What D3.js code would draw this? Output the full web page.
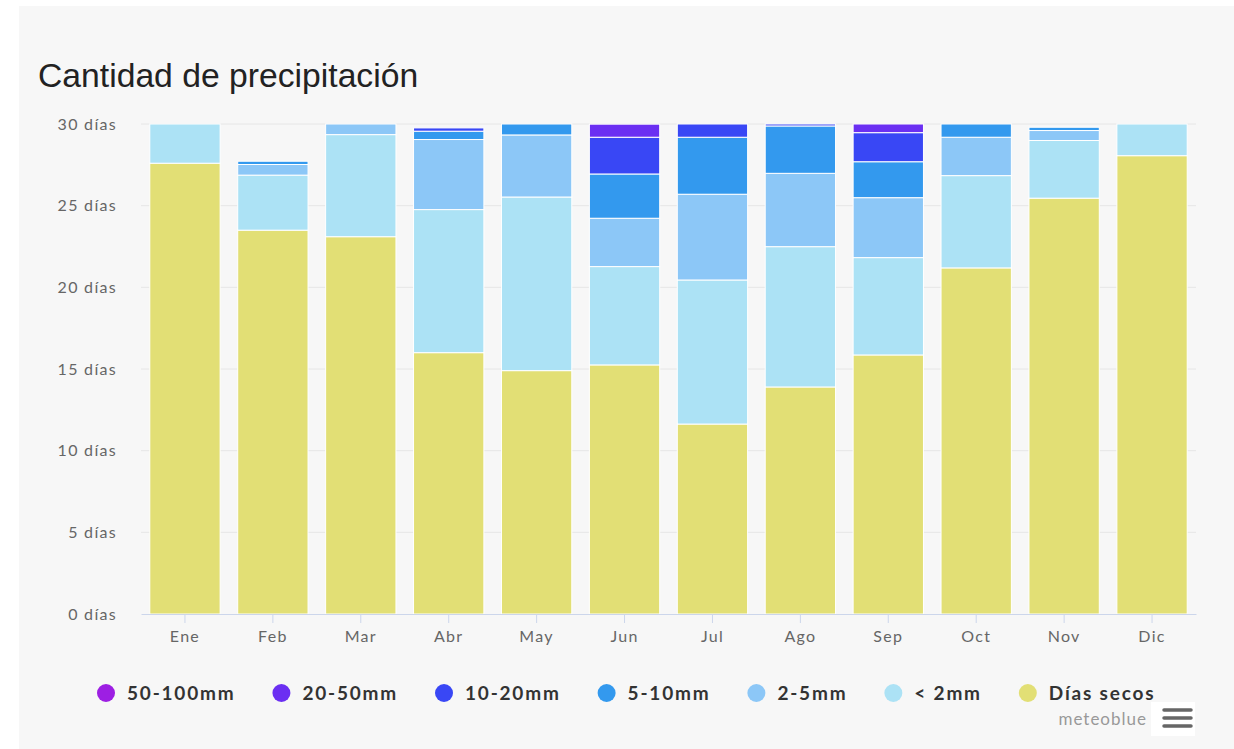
<!DOCTYPE html>
<html>
<head>
<meta charset="utf-8">
<script src="https://cdn.jsdelivr.net/npm/d3@7"></script>
<style>
  body { margin: 0; background: #fff; }
  svg { display: block; }
</style>
</head>
<body>
<div id="chart"></div>
<script>
// Chart size
const width = 1234;
const height = 749;
const marginTop = 124;
const marginRight = 38;
const marginBottom = 135;
const marginLeft = 141;

// Data (days per month)
const months = ["Ene", "Feb", "Mar", "Abr", "May", "Jun", "Jul", "Ago", "Sep", "Oct", "Nov", "Dic"];
const seriesNames = ["50-100mm", "20-50mm", "10-20mm", "5-10mm", "2-5mm", "< 2mm", "Días secos"];
const seriesColors = ["#9d1fe3", "#6b2ff2", "#3947f5", "#3399ee", "#8cc7f7", "#ace2f5", "#e2df75"];

const diasSecos = [27.6, 23.5, 23.1, 16.0, 14.9, 15.25, 11.63, 13.9, 15.86, 21.19, 25.46, 28.06];
const menos2mm  = [2.4, 3.37, 6.25, 8.76, 10.63, 6.02, 8.82, 8.59, 5.96, 5.65, 3.53, 1.94];
const mm2a5     = [0, 0.65, 0.67, 4.29, 3.8, 2.96, 5.25, 4.49, 3.67, 2.35, 0.61, 0];
const mm5a10    = [0, 0.2, 0, 0.51, 0.67, 2.71, 3.49, 2.9, 2.2, 0.82, 0.2, 0];
const mm10a20   = [0, 0, 0, 0.2, 0, 2.25, 0.82, 0.15, 1.78, 0, 0, 0];
const mm20a50   = [0, 0, 0, 0, 0, 0.8, 0, 0, 0.53, 0, 0, 0];
const mm50a100  = [0, 0, 0, 0, 0, 0, 0, 0, 0, 0, 0, 0];
const yTicks = [0, 5, 10, 15, 20, 25, 30];

// stacking order, bottom first
const stackValues = [diasSecos, menos2mm, mm2a5, mm5a10, mm10a20, mm20a50, mm50a100];
const stackKeys = ["Días secos", "< 2mm", "2-5mm", "5-10mm", "10-20mm", "20-50mm", "50-100mm"];

const table = months.map((m, i) => {
    const row = { month: m };
    stackKeys.forEach((k, j) => row[k] = stackValues[j][i]);
    return row;
});

const color = d3.scaleOrdinal().domain(seriesNames).range(seriesColors);
const labelFont = "Lato, 'Open Sans', sans-serif";

const x = d3.scaleBand()
    .domain(months)
    .range([marginLeft, width - marginRight])
    .paddingInner(0.2)
    .paddingOuter(0.1);

const y = d3.scaleLinear()
    .domain([0, 30])
    .range([height - marginBottom, marginTop]);

const svg = d3.select("#chart")
    .append("svg")
    .attr("width", width)
    .attr("height", height);

// Grey panel
svg.append("rect")
    .attr("x", 19)
    .attr("y", 6)
    .attr("width", width - 19)
    .attr("height", height - 6)
    .attr("fill", "#f7f7f7");

// Title
svg.append("text")
    .attr("x", 38)
    .attr("y", 87)
    .attr("font-family", "'Liberation Sans', Arial, sans-serif")
    .attr("font-size", 33.7)
    .attr("fill", "#222")
    .text("Cantidad de precipitación");

// Grid lines
svg.append("g")
    .selectAll("line")
    .data(yTicks.filter(d => d > 0))
    .join("line")
    .attr("x1", marginLeft)
    .attr("x2", width - marginRight)
    .attr("y1", d => y(d))
    .attr("y2", d => y(d))
    .attr("stroke", "#e6e6e6")
    .attr("stroke-width", 1);

// Y axis labels
const yAxis = svg.append("g")
    .attr("transform", `translate(${marginLeft},0)`)
    .call(d3.axisLeft(y).tickValues(yTicks).tickSize(0).tickPadding(24).tickFormat(d => `${d} días`));
yAxis.select(".domain").remove();
yAxis.selectAll(".tick text")
    .attr("font-family", labelFont)
    .attr("font-size", 16)
    .attr("letter-spacing", 1.3)
    .attr("fill", "#666");

// Stacked bars
const stacked = d3.stack().keys(stackKeys)(table);

svg.append("g")
    .selectAll("g")
    .data(stacked)
    .join("g")
    .attr("fill", d => color(d.key))
    .selectAll("rect")
    .data(d => d.filter(s => s[1] - s[0] > 0))
    .join("rect")
    .attr("x", d => x(d.data.month))
    .attr("width", x.bandwidth())
    .attr("y", d => y(Math.min(d[1], 30)))
    .attr("height", d => Math.max(0, y(d[0]) - y(Math.min(d[1], 30))))
    .attr("stroke", "#fff")
    .attr("stroke-width", 1);

// X axis
const xAxis = svg.append("g")
    .attr("transform", `translate(0,${height - marginBottom})`)
    .call(d3.axisBottom(x).tickSize(9).tickPadding(8).tickSizeOuter(0));
xAxis.select(".domain").attr("stroke", "#ccd6eb");
xAxis.selectAll(".tick line").attr("stroke", "#ccd6eb");
xAxis.selectAll(".tick text")
    .attr("font-family", labelFont)
    .attr("font-size", 16)
    .attr("letter-spacing", 1.3)
    .attr("fill", "#666");

// Legend
const legend = svg.append("g").attr("transform", "translate(97,693)");
let lx = 0;
seriesNames.forEach((name, i) => {
    const item = legend.append("g").attr("transform", `translate(${lx},0)`);
    item.append("circle")
        .attr("cx", 9)
        .attr("cy", 0)
        .attr("r", 9)
        .attr("fill", seriesColors[i]);
    const t = item.append("text")
        .attr("x", 30)
        .attr("y", 6.5)
        .attr("font-family", labelFont)
        .attr("font-weight", "bold")
        .attr("font-size", 19)
        .attr("letter-spacing", 1.8)
        .attr("fill", "#333")
        .text(name);
    lx += 30 + t.node().getComputedTextLength() + 37;
});

// Credits
svg.append("text")
    .attr("x", 1147)
    .attr("y", 725)
    .attr("text-anchor", "end")
    .attr("font-family", labelFont)
    .attr("font-size", 17)
    .attr("letter-spacing", 1)
    .attr("fill", "#999")
    .text("meteoblue");

// Menu button
const menu = svg.append("g").attr("transform", "translate(1151,702)");
menu.append("rect")
    .attr("width", 44)
    .attr("height", 34)
    .attr("fill", "#fff");
menu.selectAll("line")
    .data([8, 16, 24])
    .join("line")
    .attr("x1", 13)
    .attr("x2", 40)
    .attr("y1", d => d)
    .attr("y2", d => d)
    .attr("stroke", "#666")
    .attr("stroke-width", 3.5)
    .attr("stroke-linecap", "round");
</script>
</body>
</html>
